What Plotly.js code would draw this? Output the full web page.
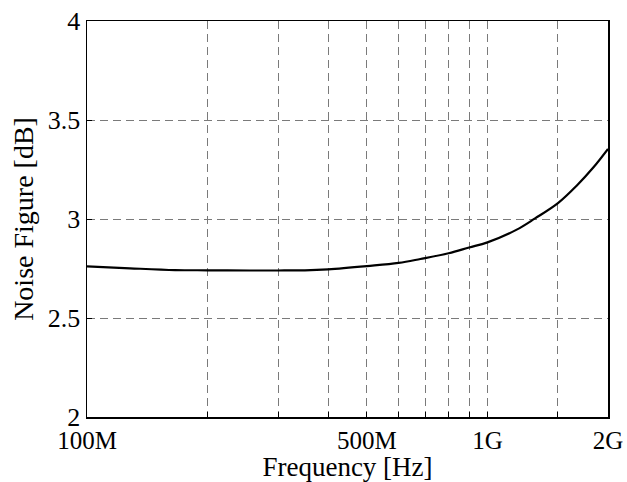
<!DOCTYPE html>
<html>
<head>
<meta charset="utf-8">
<script src="https://cdn.plot.ly/plotly-3.0.1.min.js"></script>
<style>html,body{margin:0;padding:0;background:#fff;}#chart{width:627px;height:482px;}</style>
</head>
<body>
<div id="chart"></div>
<script>
const freqHz = [1e8, 1.28e8, 1.66e8, 2e8, 2.55e8, 3e8, 3.5e8, 4e8, 5e8, 6e8, 6.8e8, 8e8, 9e8, 1e9, 1.18e9, 1.315e9, 1.5e9, 1.67e9, 1.84e9, 2e9];
const noiseFigureDb = [2.761, 2.751, 2.742, 2.741, 2.740, 2.740, 2.741, 2.746, 2.762, 2.778, 2.798, 2.827, 2.856, 2.882, 2.945, 3.003, 3.080, 3.168, 3.261, 3.354];
const xTickVals = [1e8, 2e8, 3e8, 4e8, 5e8, 6e8, 7e8, 8e8, 9e8, 1e9, 1.5e9, 2e9];
const xTickText = ['100M', '', '', '', '500M', '', '', '', '', '1G', '', '2G'];
const yTickVals = [2, 2.5, 3, 3.5, 4];
const yTickText = ['2', '2.5', '3', '3.5', '4'];

const fontFam = 'Liberation Serif, Times New Roman, serif';
const trace = {
  x: freqHz, y: noiseFigureDb, type: 'scatter', mode: 'lines',
  line: {color: '#000', width: 2.2, shape: 'spline', smoothing: 1},
  hoverinfo: 'skip'
};
const layout = {
  width: 627, height: 482,
  margin: {l: 87, r: 19, t: 21, b: 65},
  paper_bgcolor: '#fff', plot_bgcolor: '#fff',
  showlegend: false,
  font: {family: fontFam, color: '#000', size: 25},
  xaxis: {
    type: 'log', range: [8, Math.log10(2e9)],
    tickvals: xTickVals, ticktext: xTickText,
    ticks: 'inside', ticklen: 5, tickcolor: '#000',
    showgrid: true, gridcolor: '#7a7a7a', griddash: '8px,5px', gridwidth: 1,
    showline: true, linecolor: '#000', linewidth: 1.5, mirror: true,
    zeroline: false,
    tickfont: {family: fontFam, size: 25, color: '#000'},
    title: {text: 'Frequency [Hz]', font: {family: fontFam, size: 27, color: '#000'}, standoff: 2}
  },
  yaxis: {
    range: [2, 4],
    tickvals: yTickVals, ticktext: yTickText,
    ticks: 'inside', ticklen: 5, tickcolor: '#000',
    showgrid: true, gridcolor: '#7a7a7a', griddash: '8px,5px', gridwidth: 1,
    showline: true, linecolor: '#000', linewidth: 1.5, mirror: true,
    zeroline: false,
    tickfont: {family: fontFam, size: 26, color: '#000'},
    title: {text: 'Noise Figure [dB]', font: {family: fontFam, size: 28, color: '#000'}, standoff: 6}
  }
};
Plotly.newPlot('chart', [trace], layout, {displayModeBar: false, staticPlot: true});
</script>
</body>
</html>
